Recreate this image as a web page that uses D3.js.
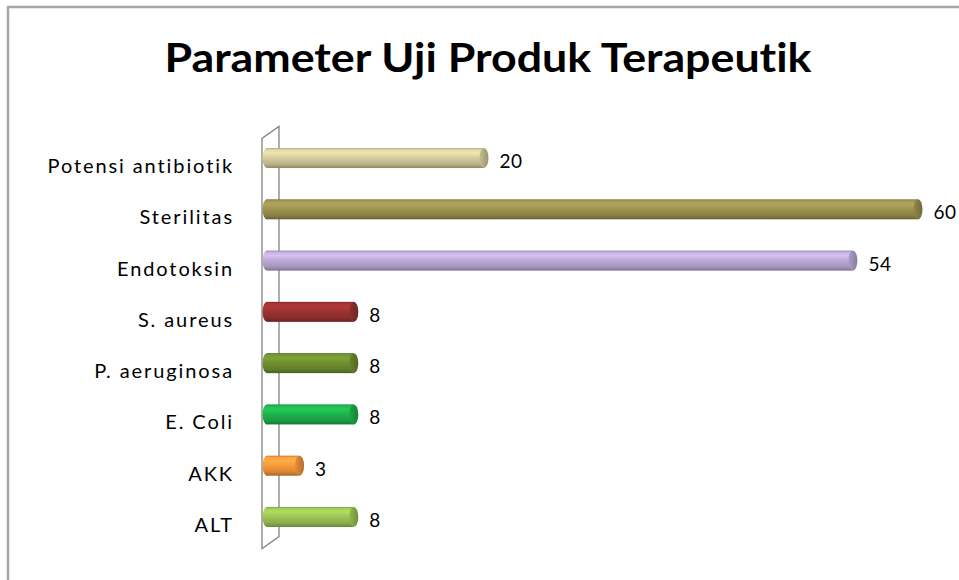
<!DOCTYPE html>
<html>
<head>
<meta charset="utf-8">
<script src="https://cdn.jsdelivr.net/npm/d3@7"></script>
<style>
  html, body { margin: 0; padding: 0; background: #fff; }
  svg { display: block; }
  text { font-variant-ligatures: none; font-feature-settings: "liga" 0, "clig" 0; }
</style>
</head>
<body>
<svg id="chart" width="959" height="580"></svg>
<script>
const title = "Parameter Uji Produk Terapeutik";
const categories = ["Potensi antibiotik", "Sterilitas", "Endotoksin", "S. aureus", "P. aeruginosa", "E. Coli", "AKK", "ALT"];
const values = [20, 60, 54, 8, 8, 8, 3, 8];
const colors = ["#d3cc9b", "#9c914f", "#bcaad6", "#9b3232", "#6f8f30", "#1db24c", "#f7993c", "#9cc455"];

const svg = d3.select("#chart");
const W = 959, H = 580;

// chart frame (top & left edges visible)
svg.append("path")
  .attr("d", `M8,${H + 2} L8,7 L${W + 2},7`)
  .attr("fill", "none").attr("stroke", "#a6a6a6").attr("stroke-width", 2.5);

// title
svg.append("text")
  .attr("x", 488).attr("y", 72)
  .attr("text-anchor", "middle")
  .attr("font-family", "Lato, 'Open Sans', sans-serif")
  .attr("font-weight", "bold")
  .attr("font-size", 40)
  .attr("textLength", 647)
  .attr("lengthAdjust", "spacingAndGlyphs")
  .attr("fill", "#000")
  .text(title);

const x = d3.scaleLinear().domain([0, 60]).range([267, 918]);
const y = d3.scaleBand().domain(categories).range([132.4, 542.6]).padding(0);
const barH = 20;
const capRx = 4.5;

// 3D wall (thin back wall)
const wallFront = 262, wallBack = 279;
const yTop = y.range()[0], yBot = y.range()[1];
svg.append("path")
  .attr("d", `M${wallFront},${yBot + 6} L${wallFront},${yTop + 6} L${wallBack},${yTop - 6} L${wallBack},${yBot - 6} Z`)
  .attr("fill", "#fff").attr("stroke", "#8c8c8c").attr("stroke-width", 1.4);

// gradients
const defs = svg.append("defs");
colors.forEach((c, i) => {
  const base = d3.color(c);
  const g = defs.append("linearGradient").attr("id", "g" + i)
    .attr("x1", 0).attr("y1", 0).attr("x2", 0).attr("y2", 1);
  const stops = [
    [0, base.darker(0.7)],
    [0.08, base.brighter(0.15)],
    [0.25, base.brighter(0.35)],
    [0.5, base],
    [0.8, base.darker(0.35)],
    [0.93, base.darker(0.8)],
    [1, base.darker(1.2)]
  ];
  stops.forEach(([o, col]) => g.append("stop").attr("offset", o).attr("stop-color", col.formatHex()));
  const gc = defs.append("linearGradient").attr("id", "c" + i)
    .attr("x1", 0).attr("y1", 0).attr("x2", 1).attr("y2", 0);
  gc.append("stop").attr("offset", 0).attr("stop-color", base.darker(0.2).formatHex());
  gc.append("stop").attr("offset", 1).attr("stop-color", base.darker(0.9).formatHex());
});

const data = categories.map((c, i) => ({ cat: c, v: values[i], i }));
const bars = svg.append("g").selectAll("g").data(data).join("g");

bars.each(function (d) {
  const g = d3.select(this);
  const cy = y(d.cat) + y.bandwidth() / 2;
  const x0 = x(0), x1 = x(d.v);
  g.append("ellipse")
    .attr("cx", x0).attr("cy", cy).attr("rx", capRx).attr("ry", barH / 2)
    .attr("fill", `url(#g${d.i})`);
  g.append("rect")
    .attr("x", x0).attr("y", cy - barH / 2)
    .attr("width", x1 - x0).attr("height", barH)
    .attr("fill", `url(#g${d.i})`);
  g.append("ellipse")
    .attr("cx", x1).attr("cy", cy).attr("rx", capRx).attr("ry", barH / 2)
    .attr("fill", `url(#c${d.i})`);
});

// value labels
svg.append("g").selectAll("text").data(data).join("text")
  .attr("x", d => x(d.v) + capRx + 11)
  .attr("y", d => y(d.cat) + y.bandwidth() / 2 + 10)
  .attr("font-family", "Lato, 'Open Sans', sans-serif")
  .attr("font-size", 19)
  .attr("letter-spacing", 0.5)
  .attr("fill", "#000")
  .text(d => d.v);

// category labels
svg.append("g").selectAll("text").data(data).join("text")
  .attr("x", 234)
  .attr("y", d => y(d.cat) + y.bandwidth() / 2 + 15)
  .attr("text-anchor", "end")
  .attr("font-family", "Lato, 'Open Sans', sans-serif")
  .attr("font-size", 20)
  .attr("letter-spacing", 1.9)
  .attr("fill", "#000")
  .text(d => d.cat);
</script>
</body>
</html>
